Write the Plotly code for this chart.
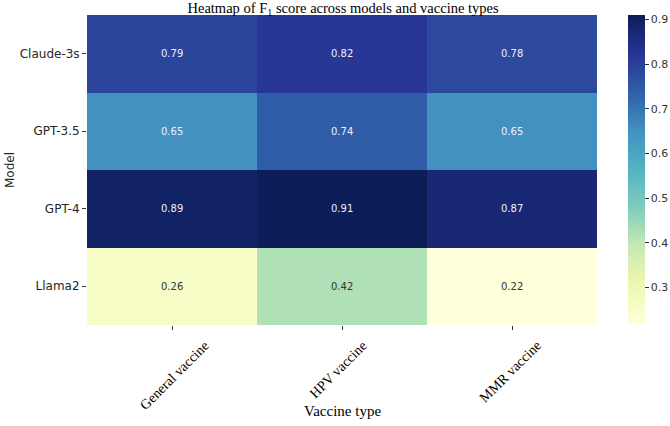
import plotly.graph_objects as go

models = ["Claude-3s", "GPT-3.5", "GPT-4", "Llama2"]
vaccines = ["General vaccine", "HPV vaccine", "MMR vaccine"]
f1 = [
    [0.79, 0.82, 0.78],
    [0.65, 0.74, 0.65],
    [0.89, 0.91, 0.87],
    [0.26, 0.42, 0.22],
]

ylgnbu = [
    [0.0, "#ffffd9"], [0.125, "#edf8b1"], [0.25, "#c7e9b4"], [0.375, "#7fcdbb"],
    [0.5, "#52b3c4"], [0.625, "#4391c0"], [0.75, "#2f5ea8"], [0.875, "#283494"],
    [1.0, "#0c1d58"],
]
zmin = min(min(r) for r in f1)
zmax = max(max(r) for r in f1)

fig = go.Figure(go.Heatmap(
    z=f1, x=vaccines, y=models, colorscale=ylgnbu, zmin=zmin, zmax=zmax,
    xgap=0, ygap=0,
    colorbar=dict(
        x=1.061, xanchor="left", xpad=0, y=0.503, yanchor="middle", len=0.994,
        ypad=0, thickness=17, outlinewidth=0,
        tickvals=[0.3, 0.4, 0.5, 0.6, 0.7, 0.8, 0.9],
        ticks="outside", ticklen=4, tickcolor="#333",
        tickfont=dict(family="DejaVu Sans", size=11, color="#333"),
    ),
    hoverinfo="skip",
))

for i, m in enumerate(models):
    for j, v in enumerate(vaccines):
        val = f1[i][j]
        fig.add_annotation(
            x=v, y=m, text=f"{val:.2f}", showarrow=False,
            font=dict(family="DejaVu Sans", size=10,
                      color="#eef0f8" if val > 0.5 else "#333333"),
        )

# rotated category labels (matplotlib-style, centred under the tick)
for v in vaccines:
    fig.add_annotation(
        x=v, xref="x", y=0, yref="paper", text=v, showarrow=False,
        textangle=-45, xanchor="left", yanchor="top", xshift=-38, yshift=-10,
        font=dict(family="Liberation Serif", size=14, color="black"),
    )

fig.add_annotation(
    x=0.5, xref="paper", y=0, yref="paper", text="Vaccine type", showarrow=False,
    xanchor="center", yanchor="middle", yshift=-86,
    font=dict(family="Liberation Serif", size=15, color="black"),
)

fig.update_layout(
    width=670, height=426,
    margin=dict(l=87, r=73, t=15, b=101, autoexpand=False),
    paper_bgcolor="white", plot_bgcolor="white",
    title=dict(
        text="Heatmap of F<sub>1</sub> score across models and vaccine types",
        x=0.512, xanchor="center", y=0.993, yanchor="top",
        font=dict(family="Liberation Serif", size=14.5, color="black"),
    ),
    xaxis=dict(
        showticklabels=False, ticks="outside", ticklen=4, tickcolor="#333",
        showgrid=False, zeroline=False, showline=False,
    ),
    yaxis=dict(
        title=dict(text="Model", standoff=2,
                   font=dict(family="DejaVu Sans", size=12, color="#262626")),
        autorange="reversed", ticks="outside", ticklen=4, tickcolor="#333",
        tickfont=dict(family="DejaVu Sans", size=12, color="#262626"),
        showgrid=False, zeroline=False, showline=False,
    ),
)

fig.write_html("out.html")
